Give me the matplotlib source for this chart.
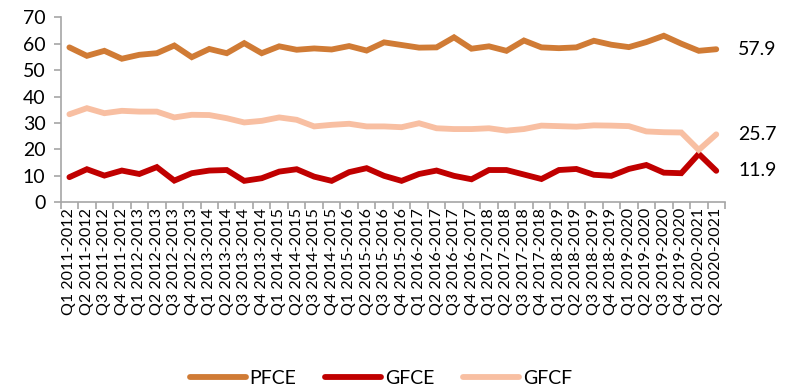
import matplotlib
matplotlib.use("Agg")
import matplotlib.pyplot as plt
import numpy as np

plt.rcParams['font.family'] = ['Lato', 'DejaVu Sans']

# quarters Q1 2011-2012 ... Q2 2020-2021
quarters = []
for y in range(2011, 2021):
    for q in range(1, 5):
        quarters.append(f"Q{q} {y}-{y+1}")
quarters = quarters[:38]

pfce = [58.6, 55.4, 57.3, 54.3, 55.8, 56.4, 59.3, 54.9, 58.0, 56.4,
        60.2, 56.4, 59.0, 57.7, 58.2, 57.8, 59.1, 57.4, 60.5, 59.5,
        58.5, 58.6, 62.4, 58.1, 59.0, 57.3, 61.2, 58.6, 58.3, 58.6,
        61.1, 59.6, 58.7, 60.6, 63.0, 60.0, 57.3, 57.9]
gfce = [9.5, 12.5, 10.1, 12.0, 10.7, 13.3, 8.2, 11.0, 12.0, 12.2,
        8.1, 9.1, 11.6, 12.5, 9.7, 8.1, 11.4, 12.9, 10.0, 8.1,
        10.7, 12.0, 10.0, 8.7, 12.2, 12.2, 10.5, 8.8, 12.2, 12.6,
        10.4, 10.0, 12.6, 14.1, 11.2, 11.0, 18.3, 11.9]
gfcf = [33.3, 35.6, 33.7, 34.6, 34.3, 34.3, 32.1, 33.1, 33.0, 31.8,
        30.2, 30.8, 32.1, 31.2, 28.7, 29.3, 29.7, 28.7, 28.7, 28.4,
        29.9, 28.0, 27.7, 27.7, 28.0, 27.1, 27.7, 29.0, 28.8, 28.6,
        29.1, 29.0, 28.8, 26.8, 26.5, 26.4, 19.8, 25.7]

series = [("PFCE", pfce, "#D07B35"), ("GFCE", gfce, "#C00000"), ("GFCF", gfcf, "#F8BFA2")]

fig = plt.figure(figsize=(7.92, 3.92), dpi=100)
ax = fig.add_axes([0.0766, 0.484, 0.8388, 0.472])

x = np.arange(len(quarters))
for name, vals, col in series:
    ax.plot(x, vals, color=col, lw=4.2, label=name, solid_capstyle='round', solid_joinstyle='miter')
    ax.text(len(quarters) - 0.5 + 0.75, vals[-1], f"{vals[-1]:.1f}", va='center', ha='left', fontsize=14)

ax.set_xlim(-0.5, len(quarters) - 0.5)
ax.set_ylim(0, 70)
ax.set_yticks(range(0, 71, 10))
ax.set_xticks(x)
ax.set_xticklabels(quarters, rotation=90, fontsize=11.5)
ax.set_xticks(np.arange(-0.5, len(quarters)), minor=True)
ax.tick_params(axis='x', which='major', length=0, pad=4)
ax.tick_params(axis='x', which='minor', length=5, color='#A6A6A6', width=1.2)
ax.tick_params(axis='y', length=5, color='#A6A6A6', width=1.2, labelsize=14, pad=6)

for s in ['top', 'right']:
    ax.spines[s].set_visible(False)
for s in ['left', 'bottom']:
    ax.spines[s].set_color('#A6A6A6')
    ax.spines[s].set_linewidth(1.2)

fig.legend(loc='lower center', bbox_to_anchor=(0.481, -0.032), ncol=3, frameon=False,
           fontsize=14, handlelength=2.85, handletextpad=0.2, columnspacing=1.5)

fig.savefig("out.png", dpi=100)
